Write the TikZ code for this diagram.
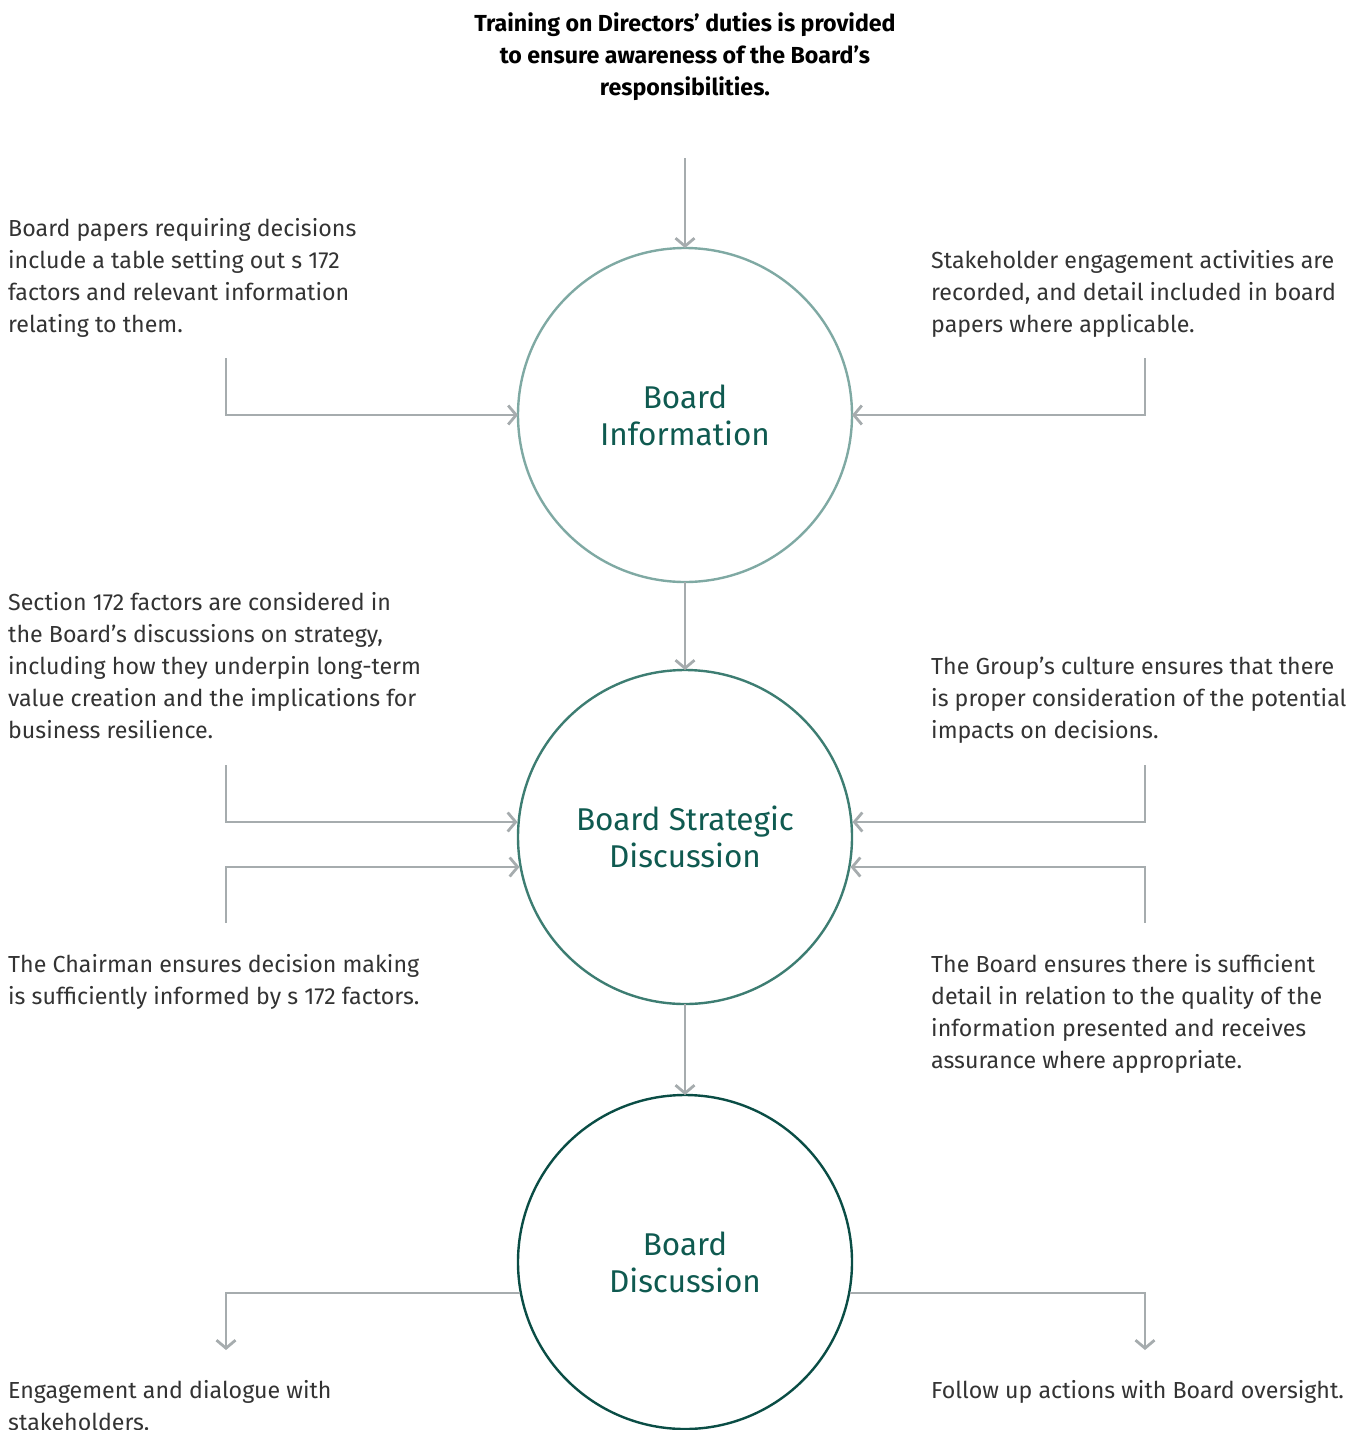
\documentclass[tikz,border=0pt]{standalone}
\usepackage{fontspec}
\setmainfont{Fira Sans}
\usetikzlibrary{arrows.meta,calc}
\definecolor{circA}{HTML}{7FA9A3}
\definecolor{circB}{HTML}{3D7D72}
\definecolor{circC}{HTML}{0A4D45}
\definecolor{titlecol}{HTML}{0F5A50}
\definecolor{arrcol}{HTML}{A6ACAE}
\definecolor{txtcol}{HTML}{333333}
\newcommand{\bodytext}[1]{\parbox[t]{470pt}{\raggedright\fontsize{23.2}{32}\selectfont #1}}
\begin{document}
\begin{tikzpicture}[x=1pt,y=-1pt,
  bigcirc/.style={circle,minimum size=334pt,inner sep=0pt,outer sep=0pt,line width=2.4pt,text=titlecol,align=center,font=\fontsize{31.5}{37}\selectfont},
  arr/.style={draw=arrcol,line width=2.8pt,-{Straight Barb[length=8pt,width=19pt,line width=2.8pt]}},
  body/.style={anchor=base west,inner sep=0pt,text=txtcol}]
\useasboundingbox (0,0) rectangle (1350,1430);

% title
\node[anchor=base,inner sep=0pt,align=center,font=\bfseries\fontsize{23.2}{32}\selectfont,text=black] (title) at (685,95)
  {Training on Directors’ duties is provided\\to ensure awareness of the Board’s\\responsibilities.};

% circles
\node[bigcirc,draw=circA] (c1) at (685,415) {Board\\Information};
\node[bigcirc,draw=circB] (c2) at (685,837) {Board Strategic\\Discussion};
\node[bigcirc,draw=circC] (c3) at (685,1262) {Board\\Discussion};

% texts
\node[body] (t1) at (8,236) {\bodytext{Board papers requiring decisions\\include a table setting out s 172\\factors and relevant information\\relating to them.}};
\node[body] (t2) at (931,268) {\bodytext{Stakeholder engagement activities are\\recorded, and detail included in board\\papers where applicable.}};
\node[body] (t3) at (8,610) {\bodytext{Section 172 factors are considered in\\the Board’s discussions on strategy,\\including how they underpin long-term\\value creation and the implications for\\business resilience.}};
\node[body] (t4) at (931,674) {\bodytext{The Group’s culture ensures that there\\is proper consideration of the potential\\impacts on decisions.}};
\node[body] (t5) at (8,972) {\bodytext{The Chairman ensures decision making\\is sufficiently informed by s 172 factors.}};
\node[body] (t6) at (931,972) {\bodytext{The Board ensures there is sufficient\\detail in relation to the quality of the\\information presented and receives\\assurance where appropriate.}};
\node[body] (t7) at (8,1398) {\bodytext{Engagement and dialogue with\\stakeholders.}};
\node[body] (t8) at (931,1398) {\bodytext{Follow up actions with Board oversight.}};

% connector coordinates
\coordinate (top) at (685,158);
\coordinate (la) at (226,358); \coordinate (lab) at (226,415);
\coordinate (ra) at (1145,358); \coordinate (rab) at (1145,415);
\coordinate (lb) at (226,765); \coordinate (lbb) at (226,822);
\coordinate (lc) at (226,923); \coordinate (lcb) at (226,867);
\coordinate (rb) at (1145,765); \coordinate (rbb) at (1145,822);
\coordinate (rc) at (1145,923); \coordinate (rcb) at (1145,867);
\coordinate (ld) at (226,1350); \coordinate (ldb) at (226,1293);
\coordinate (rd) at (1145,1350); \coordinate (rdb) at (1145,1293);

% connectors
\draw[arr] (top) -- (c1.north);
\draw[arr] (la) -- (lab) -- (c1.west);
\draw[arr] (ra) -- (rab) -- (c1.east);
\draw[arr] (c1.south) -- (c2.north);
\draw[arr] (lb) -- (lbb) -- ($(c2.center)+(-167.5,-15)$);
\draw[arr] (lc) -- (lcb) -- ($(c2.center)+(-165.5,30)$);
\draw[arr] (rb) -- (rbb) -- ($(c2.center)+(167.5,-15)$);
\draw[arr] (rc) -- (rcb) -- ($(c2.center)+(165.5,30)$);
\draw[arr] (c2.south) -- (c3.north);
\draw[arr] ($(c3.center)+(-165.3,31)$) -- (ldb) -- (ld);
\draw[arr] ($(c3.center)+(165.3,31)$) -- (rdb) -- (rd);
\end{tikzpicture}
\end{document}
